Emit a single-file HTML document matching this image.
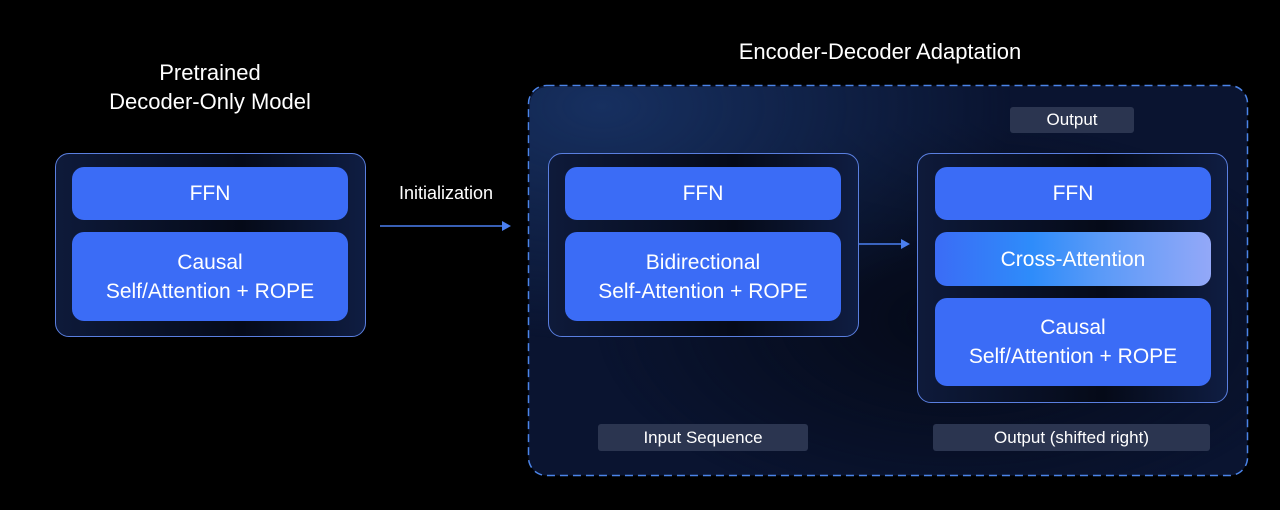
<!DOCTYPE html>
<html><head><meta charset="utf-8"><style>
*{margin:0;padding:0;box-sizing:border-box}
body{width:1280px;height:510px;background:#000;position:relative;overflow:hidden;font-family:"Liberation Sans",sans-serif;color:#fff}
.a{position:absolute}
.t{position:absolute;text-align:center;color:#fff}
.outer{position:absolute;border:1.5px solid #5a7fe0;border-radius:14px;background:linear-gradient(90deg,#0e1a3a 0%,#050a18 60%,#0f1d42 100%)}
.blk{position:absolute;background:#3b6cf6;border-radius:12px;display:flex;align-items:center;justify-content:center;text-align:center;font-size:21px;line-height:29px;color:#fff}
.lbl{position:absolute;background:#2b3550;border-radius:3px;display:flex;align-items:center;justify-content:center;font-size:17px;color:#fff}
</style></head><body>
<div class="t" style="left:60px;top:58px;width:300px;font-size:22px;line-height:29px">Pretrained<br>Decoder-Only Model</div>
<div class="t" style="left:580px;top:37px;width:600px;font-size:22px;line-height:29px">Encoder-Decoder Adaptation</div>

<div class="outer" style="left:55px;top:153px;width:311px;height:184px"></div>
<div class="blk" style="left:72px;top:167px;width:276px;height:53px">FFN</div>
<div class="blk" style="left:72px;top:232px;width:276px;height:89px">Causal<br>Self/Attention + ROPE</div>

<div class="t" style="left:380px;top:183px;width:132px;font-size:18px">Initialization</div>
<svg class="a" style="left:0;top:0" width="1280" height="510">
<line x1="380" y1="226" x2="503" y2="226" stroke="#4a7ff0" stroke-width="1.5"/>
<polygon points="502,221 511,226 502,231" fill="#4a7ff0"/>
<rect x="528.5" y="85.5" width="719" height="390" rx="18" fill="#0a1430" stroke="#4b84e8" stroke-width="1.5" stroke-dasharray="8,5"/>
</svg>
<div class="a" style="left:530px;top:87px;width:716px;height:387px;border-radius:17px;background:radial-gradient(ellipse at 10% 5%,#173060 0%,rgba(10,20,48,0) 45%),radial-gradient(ellipse at 60% 60%,#050a18 0%,rgba(5,10,24,0) 60%)"></div>

<div class="outer" style="left:548px;top:153px;width:311px;height:184px"></div>
<div class="blk" style="left:565px;top:167px;width:276px;height:53px">FFN</div>
<div class="blk" style="left:565px;top:232px;width:276px;height:89px">Bidirectional<br>Self-Attention + ROPE</div>

<svg class="a" style="left:0;top:0" width="1280" height="510">
<line x1="859" y1="244" x2="903" y2="244" stroke="#4a7ff0" stroke-width="1.5"/>
<polygon points="901,239 910,244 901,249" fill="#4a7ff0"/>
</svg>

<div class="lbl" style="left:1010px;top:107px;width:124px;height:26px">Output</div>

<div class="outer" style="left:917px;top:153px;width:311px;height:250px"></div>
<div class="blk" style="left:935px;top:167px;width:276px;height:53px">FFN</div>
<div class="blk" style="left:935px;top:232px;width:276px;height:54px;background:linear-gradient(90deg,#3b6cf6 0%,#2e8cfa 35%,#5a9af8 60%,#93a8f8 100%)">Cross-Attention</div>
<div class="blk" style="left:935px;top:298px;width:276px;height:88px">Causal<br>Self/Attention + ROPE</div>

<div class="lbl" style="left:598px;top:424px;width:210px;height:27px">Input Sequence</div>
<div class="lbl" style="left:933px;top:424px;width:277px;height:27px">Output (shifted right)</div>
</body></html>
